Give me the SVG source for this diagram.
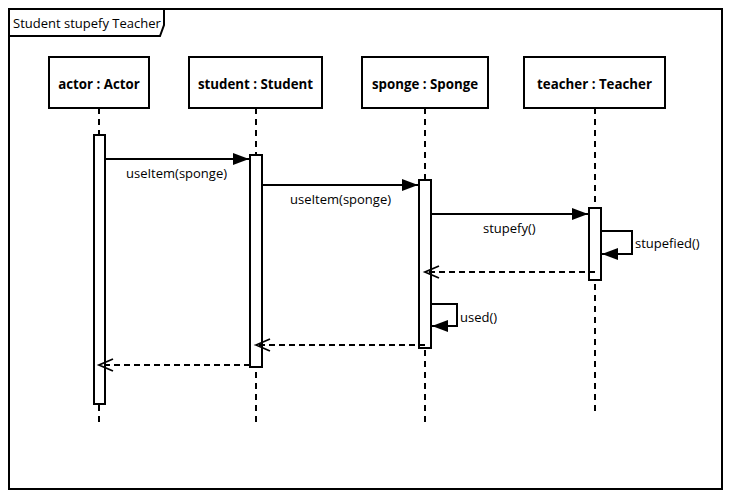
<svg xmlns="http://www.w3.org/2000/svg" width="732" height="499" viewBox="0 0 732 499">
<defs>
<style>
.frame{fill:none;stroke:#000;stroke-width:2}
.box{fill:#fff;stroke:#000;stroke-width:2}
.life{fill:none;stroke:#000;stroke-width:2;stroke-dasharray:6,5}
.act{fill:#fff;stroke:#000;stroke-width:2}
.msg{fill:none;stroke:#000;stroke-width:2}
.ret{fill:none;stroke:#000;stroke-width:2;stroke-dasharray:6,4}
.name{font-family:"Open Sans","Noto Sans","Liberation Sans",sans-serif;font-weight:bold;font-size:13.3px;fill:#000;text-anchor:middle}
.lbl{font-family:"Open Sans","Noto Sans","Liberation Sans",sans-serif;font-size:13px;fill:#000}
.title{font-family:"Open Sans","Noto Sans","Liberation Sans",sans-serif;font-size:13px;fill:#000}
</style>
<marker id="filled" markerWidth="20" markerHeight="14" refX="16" refY="7" orient="auto" markerUnits="userSpaceOnUse">
<path d="M0,1 L16,7 L0,13 Z" fill="#000"/>
</marker>
<marker id="open" markerWidth="20" markerHeight="16" refX="15" refY="8" orient="auto" markerUnits="userSpaceOnUse">
<path d="M1,2 L15,8 L1,14" fill="none" stroke="#000" stroke-width="1.8"/>
</marker>
</defs>
<rect width="732" height="499" fill="#fff"/>
<g id="frame">
<rect class="frame" x="9" y="9" width="713" height="480"/>
<path class="frame" d="M9,36 L160,36 L164,25 L164,9"/>
<text class="title" x="13" y="28">Student stupefy Teacher</text>
</g>
<g id="lifelines">
<line class="life" x1="99" y1="108" x2="99" y2="427"/>
<line class="life" x1="256" y1="108" x2="256" y2="427"/>
<line class="life" x1="425" y1="108" x2="425" y2="427"/>
<line class="life" x1="595" y1="108" x2="595" y2="416"/>
</g>
<g id="actor">
<rect class="box" x="49" y="57" width="100" height="51"/>
<text class="name" x="99" y="89">actor : Actor</text>
<rect class="act" x="94" y="135" width="11" height="269"/>
</g>
<g id="student">
<rect class="box" x="189" y="57" width="133" height="51"/>
<text class="name" x="255.5" y="89">student : Student</text>
<rect class="act" x="250" y="155" width="12" height="212"/>
</g>
<g id="sponge">
<rect class="box" x="362" y="57" width="126" height="51"/>
<text class="name" x="425" y="89">sponge : Sponge</text>
<rect class="act" x="419" y="180" width="12" height="168"/>
</g>
<g id="teacher">
<rect class="box" x="524" y="57" width="141" height="51"/>
<text class="name" x="594.5" y="89">teacher : Teacher</text>
<rect class="act" x="589" y="208" width="12" height="72"/>
</g>
<g id="connectors">
<line class="msg" x1="106" y1="159" x2="249" y2="159" marker-end="url(#filled)"/>
<text class="lbl" x="126" y="178">useItem(sponge)</text>
<line class="msg" x1="263" y1="185" x2="418" y2="185" marker-end="url(#filled)"/>
<text class="lbl" x="290" y="204">useItem(sponge)</text>
<line class="msg" x1="432" y1="214" x2="588" y2="214" marker-end="url(#filled)"/>
<text class="lbl" x="483" y="233">stupefy()</text>
<polyline class="msg" points="602,231 632,231 632,254 602,254" marker-end="url(#filled)"/>
<text class="lbl" x="635" y="248">stupefied()</text>
<line class="ret" x1="595" y1="272" x2="425" y2="272" marker-end="url(#open)"/>
<polyline class="msg" points="432,304 457,304 457,326 432,326" marker-end="url(#filled)"/>
<text class="lbl" x="460" y="322">used()</text>
<line class="ret" x1="425" y1="345" x2="256" y2="345" marker-end="url(#open)"/>
<line class="ret" x1="250" y1="365" x2="99" y2="365" marker-end="url(#open)"/>
</g>
</svg>
